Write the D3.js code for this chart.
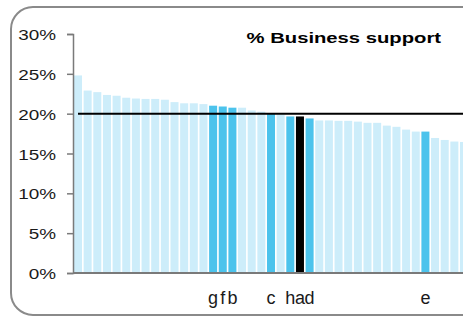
<!DOCTYPE html>
<html>
<head>
<meta charset="utf-8">
<script src="https://cdn.jsdelivr.net/npm/d3@7"></script>
<style>
  html, body { margin: 0; padding: 0; background: #fff; overflow: hidden; }
  svg { display: block; }
  text { font-family: "Liberation Sans", Arial, sans-serif; }
</style>
</head>
<body>
<svg id="chart" width="463" height="317"></svg>
<script>
// ---- data ----
const categories = ["", "", "", "", "", "", "", "", "", "", "", "", "", "",
  "g", "f", "b", "", "", "", "c", "", "h", "a", "d", "", "", "", "", "", "",
  "", "", "", "", "", "e", "", "", "", ""];
const values = [24.8, 22.9, 22.7, 22.35, 22.25, 22.0, 21.9, 21.85, 21.85, 21.75,
  21.45, 21.3, 21.3, 21.2, 21.0, 20.9, 20.75, 20.75, 20.4, 20.25,
  20.05, 19.9, 19.65, 19.65, 19.4, 19.15, 19.15, 19.1, 19.1, 19.0,
  18.85, 18.85, 18.5, 18.35, 18.0, 17.75, 17.75, 16.95, 16.7, 16.5, 16.45];
const referenceValue = [20];
const yTicks = [0, 5, 10, 15, 20, 25, 30];
const title = "% Business support";
const blackCategory = "a";

// ---- styles ----
const lightColor = "#cdedfa";
const darkColor = "#4cc3ec";
const blackColor = "#000000";
const axisColor = "#7a7a7a";
const textStretch = 1.35;

const svg = d3.select("#chart");

// frame
svg.append("rect")
  .attr("x", 11).attr("y", 7)
  .attr("width", 520).attr("height", 308)
  .attr("rx", 22).attr("ry", 22)
  .attr("fill", "#fff")
  .attr("stroke", "#8a8a8a").attr("stroke-width", 2);

const idx = d3.range(values.length);
const x = d3.scaleBand()
  .domain(idx)
  .range([74, 74 + 9.65 * (values.length - 0.17)])
  .paddingInner(0.17)
  .paddingOuter(0);

const y = d3.scaleLinear().domain([0, 30]).range([273, 34]);

// bars
svg.append("g").selectAll("rect")
  .data(idx)
  .join("rect")
  .attr("x", i => x(i))
  .attr("y", i => y(values[i]))
  .attr("width", x.bandwidth())
  .attr("height", i => y(0) - y(values[i]))
  .attr("fill", i => categories[i] === blackCategory ? blackColor
                    : (categories[i] ? darkColor : lightColor));

// reference line
svg.append("g").selectAll("line")
  .data(referenceValue)
  .join("line")
  .attr("x1", 78).attr("x2", 463)
  .attr("y1", d => y(d)).attr("y2", d => y(d))
  .attr("stroke", "#000").attr("stroke-width", 2);

// y axis
const yAxis = svg.append("g")
  .attr("transform", "translate(73,0)")
  .call(d3.axisLeft(y).tickValues(yTicks).tickSize(6).tickPadding(0).tickFormat(d => d + "%"));
yAxis.select(".domain").attr("stroke", axisColor).attr("stroke-width", 1.5);
yAxis.selectAll(".tick line").attr("stroke", axisColor).attr("stroke-width", 1.5);
yAxis.selectAll(".tick text").remove();
yAxis.selectAll(".tick").append("text")
  .attr("transform", `translate(-17,5.5) scale(${textStretch},1)`)
  .attr("text-anchor", "end")
  .attr("fill", "#1a1a1a")
  .style("font-size", "14px")
  .text(d => d + "%");

// x axis (baseline)
const xAxis = svg.append("g")
  .attr("transform", `translate(0,${y(0)})`)
  .call(d3.axisBottom(x).tickSize(0).tickFormat(i => categories[i]));
xAxis.select(".domain").attr("d", "M73,0H463").attr("stroke", axisColor).attr("stroke-width", 2);
xAxis.selectAll(".tick text")
  .attr("dy", 0).attr("y", 31)
  .attr("fill", "#1a1a1a")
  .style("font-size", "18px");

// title
svg.append("text")
  .attr("transform", `translate(441,43) scale(${textStretch},1)`)
  .attr("text-anchor", "end")
  .style("font-size", "15px")
  .style("font-weight", "bold")
  .attr("fill", "#000")
  .text(title);
</script>
</body>
</html>
